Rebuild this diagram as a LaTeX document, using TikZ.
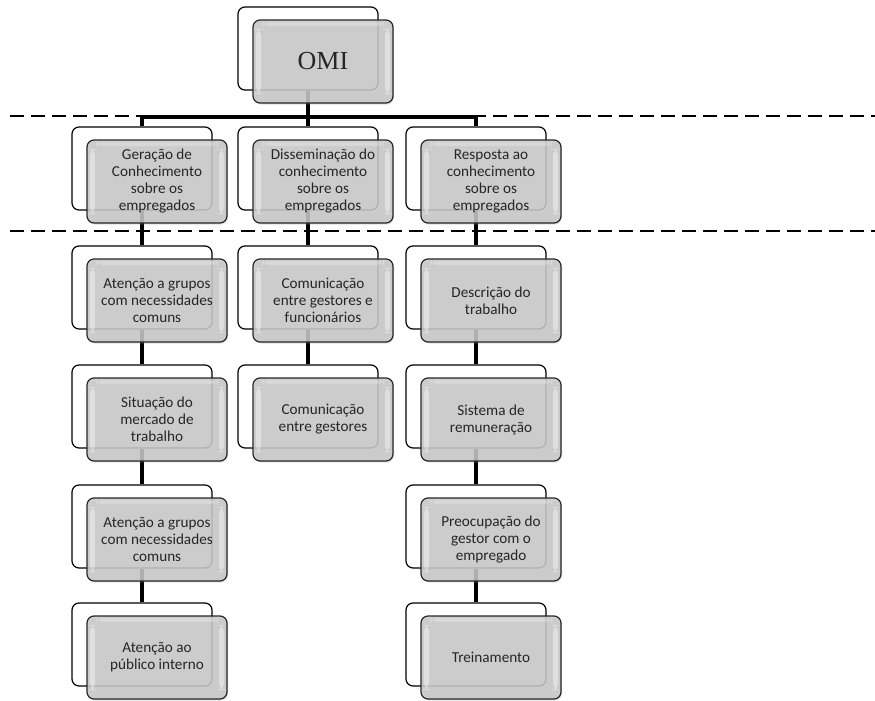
\documentclass[tikz,border=0pt]{standalone}
\usepackage{fontspec}
\setmainfont{Carlito}
\newfontfamily\omifont{Liberation Serif}
\usetikzlibrary{shadows,backgrounds}

\begin{document}
\begin{tikzpicture}[x=1pt,y=-1pt]
	\tikzstyle{backbox} = [rectangle,rounded corners=7pt,draw=black,line width=1.2pt,fill=white,minimum width=140pt,minimum height=83pt];
	\tikzstyle{frontbox} = [rectangle,rounded corners=7pt,draw=black!85,line width=1.2pt,fill=black!21,fill opacity=0.85,text opacity=1,
		minimum width=140pt,minimum height=83pt,align=center,inner sep=2pt,text=black!85,
		font=\fontsize{15.2}{17}\selectfont,
		drop shadow={opacity=0.25,shadow xshift=1pt,shadow yshift=-1.5pt},
		path picture={
			\fill[white,opacity=0.4] ([xshift=3pt,yshift=-9pt]path picture bounding box.north west) rectangle ([xshift=8pt,yshift=9pt]path picture bounding box.south west);
			\fill[white,opacity=0.4] ([xshift=-3pt,yshift=-9pt]path picture bounding box.north east) rectangle ([xshift=-8pt,yshift=9pt]path picture bounding box.south east);
			\fill[white,opacity=0.25] ([xshift=9pt,yshift=-2pt]path picture bounding box.north west) rectangle ([xshift=-9pt,yshift=-6pt]path picture bounding box.north east);
		}];
	\tikzstyle{link} = [line width=3.5pt,black];
	\tikzstyle{sep} = [line width=1.4pt,black,dash pattern=on 14pt off 7pt];
	\useasboundingbox (0,0) rectangle (875,701);

	% level lines
	\draw[sep] (10,116) -- (875,116);
	\draw[sep] (10,231) -- (875,231);

	% top
	\node[backbox] (omiB) at (308,48.5) {};
	\node[frontbox,font=\omifont\fontsize{26}{30}\selectfont] (omi) at (323,61.5) {OMI};

	% second level
	\node[backbox] (genB) at (142,168.5) {};
	\node[frontbox] (gen) at (157,181.5) {Geração de\\Conhecimento\\sobre os\\empregados};
	\node[backbox] (disB) at (308,168.5) {};
	\node[frontbox] (dis) at (323,181.5) {Disseminação do\\conhecimento\\sobre os\\empregados};
	\node[backbox] (resB) at (476,168.5) {};
	\node[frontbox] (res) at (491,181.5) {Resposta ao\\conhecimento\\sobre os\\empregados};

	% left column
	\node[backbox] (a1B) at (142,287.5) {};
	\node[frontbox] (a1) at (157,300.5) {Atenção a grupos\\com necessidades\\comuns};
	\node[backbox] (a2B) at (142,406.5) {};
	\node[frontbox] (a2) at (157,419.5) {Situação do\\mercado de\\trabalho};
	\node[backbox] (a3B) at (142,526.5) {};
	\node[frontbox] (a3) at (157,539.5) {Atenção a grupos\\com necessidades\\comuns};
	\node[backbox] (a4B) at (142,644.5) {};
	\node[frontbox] (a4) at (157,657.5) {Atenção ao\\público interno};

	% middle column
	\node[backbox] (c1B) at (308,287.5) {};
	\node[frontbox] (c1) at (323,300.5) {Comunicação\\entre gestores e\\funcionários};
	\node[backbox] (c2B) at (308,406.5) {};
	\node[frontbox] (c2) at (323,419.5) {Comunicação\\entre gestores};

	% right column
	\node[backbox] (d1B) at (476,287.5) {};
	\node[frontbox] (d1) at (491,300.5) {Descrição do\\trabalho};
	\node[backbox] (d2B) at (476,406.5) {};
	\node[frontbox] (d2) at (491,419.5) {Sistema de\\remuneração};
	\node[backbox] (d3B) at (476,526.5) {};
	\node[frontbox] (d3) at (491,539.5) {Preocupação do\\gestor com o\\empregado};
	\node[backbox] (d4B) at (476,644.5) {};
	\node[frontbox] (d4) at (491,657.5) {Treinamento};

	\coordinate (bar) at (308,117);
	\begin{pgfonlayer}{background}
		\draw[link] (omiB) -- (disB);
		\draw[link] (genB.north) |- (bar) -| (resB.north);
		\draw[link] (genB) -- (a1B);
		\draw[link] (a1B) -- (a2B);
		\draw[link] (a2B) -- (a3B);
		\draw[link] (a3B) -- (a4B);
		\draw[link] (disB) -- (c1B);
		\draw[link] (c1B) -- (c2B);
		\draw[link] (resB) -- (d1B);
		\draw[link] (d1B) -- (d2B);
		\draw[link] (d2B) -- (d3B);
		\draw[link] (d3B) -- (d4B);
	\end{pgfonlayer}
\end{tikzpicture}
\end{document}
